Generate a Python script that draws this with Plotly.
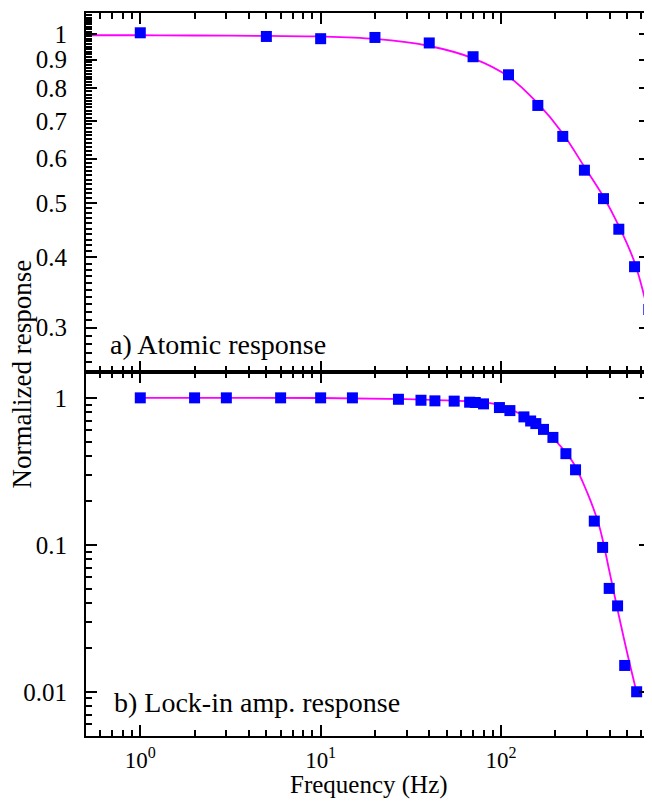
import plotly.graph_objects as go
import numpy as np

# ---- data ----
top_freq = [1, 5, 10, 20, 40, 70, 110, 160, 220, 290, 370, 450, 550, 660]
top_resp = [1.005, 0.99, 0.981, 0.986, 0.964, 0.911, 0.846, 0.746, 0.657, 0.572, 0.509, 0.449, 0.385, 0.323]
top_fit_freq = [0.5, 1, 2, 5, 10, 20, 40, 70, 110, 160, 220, 290, 370, 450, 550, 670]
top_fit_resp = [0.995, 0.995, 0.994, 0.992, 0.99, 0.98, 0.952, 0.905, 0.84, 0.752, 0.665, 0.58, 0.513, 0.455, 0.392, 0.31]

bot_freq = [1, 2, 3, 6, 10, 15, 27, 36, 43, 55, 67, 72, 80, 98, 112, 134, 146, 156, 172, 194, 229, 259, 329, 366, 398, 443, 485, 565]
bot_resp = [1.0, 1.0, 1.0, 1.0, 1.0, 1.0, 0.978, 0.963, 0.954, 0.95, 0.934, 0.93, 0.91, 0.859, 0.819, 0.742, 0.696, 0.668, 0.61, 0.538, 0.417, 0.324, 0.145, 0.096, 0.0505, 0.0384, 0.0151, 0.01]
bot_fit_freq = [1, 10, 30, 50, 80, 100, 130, 160, 200, 250, 300, 350, 400, 450, 500, 565]
bot_fit_resp = [1.0, 0.998, 0.98, 0.96, 0.935, 0.885, 0.77, 0.668, 0.514, 0.366, 0.228, 0.135, 0.065, 0.033, 0.0185, 0.0099]

x_major = [1, 10, 100]
x_major_text = ["10<sup>0</sup>", "10<sup>1</sup>", "10<sup>2</sup>"]
top_y_major = [0.3, 0.4, 0.5, 0.6, 0.7, 0.8, 0.9, 1]
top_y_text = ["0.3", "0.4", "0.5", "0.6", "0.7", "0.8", "0.9", "1"]
bot_y_major = [0.01, 0.1, 1]
bot_y_text = ["0.01", "0.1", "1"]

X_MIN, X_MAX = 0.5, 670
TOP_Y = (0.25, 1.09)
BOT_Y = (0.005, 1.5)

# minor tick positions
x_minor = [m * 10.0 ** e for e in (-1, 0, 1, 2) for m in range(2, 10)
           if X_MIN <= m * 10.0 ** e <= X_MAX]
top_y_minor = [round(v / 100, 2) for v in range(25, 110) if round(v / 100, 2) not in top_y_major]
bot_y_minor = [m * 10.0 ** e for e in (-3, -2, -1, 0) for m in range(2, 10) if 0.005 <= m * 10.0 ** e <= 1.5]

FONT = "Liberation Serif"
fig = go.Figure()

fig.add_trace(go.Scatter(x=top_fit_freq, y=top_fit_resp, mode="lines",
                         line=dict(color="#ff00ff", width=1.8, shape="spline"),
                         xaxis="x2", yaxis="y2", showlegend=False))
fig.add_trace(go.Scatter(x=top_freq, y=top_resp, mode="markers",
                         marker=dict(symbol="square", size=11, color="#0000ff"),
                         xaxis="x2", yaxis="y2", showlegend=False))
fig.add_trace(go.Scatter(x=bot_fit_freq, y=bot_fit_resp, mode="lines",
                         line=dict(color="#ff00ff", width=1.8, shape="spline"),
                         xaxis="x", yaxis="y", showlegend=False))
fig.add_trace(go.Scatter(x=bot_freq, y=bot_resp, mode="markers",
                         marker=dict(symbol="square", size=11, color="#0000ff"),
                         xaxis="x", yaxis="y", showlegend=False))

xr = [np.log10(X_MIN), np.log10(X_MAX)]
split = 0.5035


def minor(vals):
    return dict(tickmode="array", tickvals=vals, ticks="inside", ticklen=6, tickwidth=2, tickcolor="black")


def axis(**kw):
    d = dict(type="log", showline=True, linecolor="black", linewidth=2, mirror="allticks", ticks="inside",
             tickwidth=2, tickcolor="black", ticklen=11, showgrid=False, zeroline=False, automargin=False,
             tickfont=dict(family=FONT, size=25, color="black"))
    d.update(kw)
    return d


# page body has an 8px margin: size the figure so the plot box lands where the reference has it
fig.update_layout(
    width=644, height=794,
    margin=dict(l=78, r=2, t=5, b=66),
    paper_bgcolor="white", plot_bgcolor="white",
    font=dict(family=FONT, color="black"),
    xaxis=axis(range=xr, domain=[0, 1], anchor="y", tickmode="array", tickvals=x_major, ticktext=x_major_text,
               minor=minor(x_minor), ticklabelstandoff=2, tickfont=dict(family=FONT, size=23, color="black")),
    xaxis2=axis(range=xr, domain=[0, 1], anchor="y2", tickmode="array", tickvals=x_major, showticklabels=False,
                minor=minor(x_minor)),
    yaxis=axis(range=[np.log10(BOT_Y[0]), np.log10(BOT_Y[1])], domain=[0, split], anchor="x",
               tickmode="array", tickvals=bot_y_major, ticktext=bot_y_text,
               minor=minor(bot_y_minor), ticklabelstandoff=12),
    yaxis2=axis(range=[np.log10(TOP_Y[0]), np.log10(TOP_Y[1])], domain=[split, 1], anchor="x2",
                tickmode="array", tickvals=top_y_major, ticktext=top_y_text,
                minor=minor(top_y_minor), ticklabelstandoff=12),
    annotations=[
        dict(text="a) Atomic response", xref="paper", yref="paper", x=0.039, y=0.541, xanchor="left", yanchor="middle",
             showarrow=False, font=dict(family=FONT, size=28, color="black")),
        dict(text="b) Lock-in amp. response", xref="paper", yref="paper", x=0.046, y=0.047, xanchor="left",
             yanchor="middle", showarrow=False, font=dict(family=FONT, size=28, color="black")),
        dict(text="Normalized response", xref="paper", yref="paper", x=-0.1152, y=0.5, xanchor="center",
             yanchor="middle", textangle=-90, showarrow=False, font=dict(family=FONT, size=27, color="black")),
        dict(text="Frequency (Hz)", xref="paper", yref="paper", x=0.501, y=-0.0885, xanchor="center",
             yanchor="bottom", showarrow=False, borderpad=0, font=dict(family=FONT, size=25, color="black")),
    ],
)

fig.write_html("out.html")
